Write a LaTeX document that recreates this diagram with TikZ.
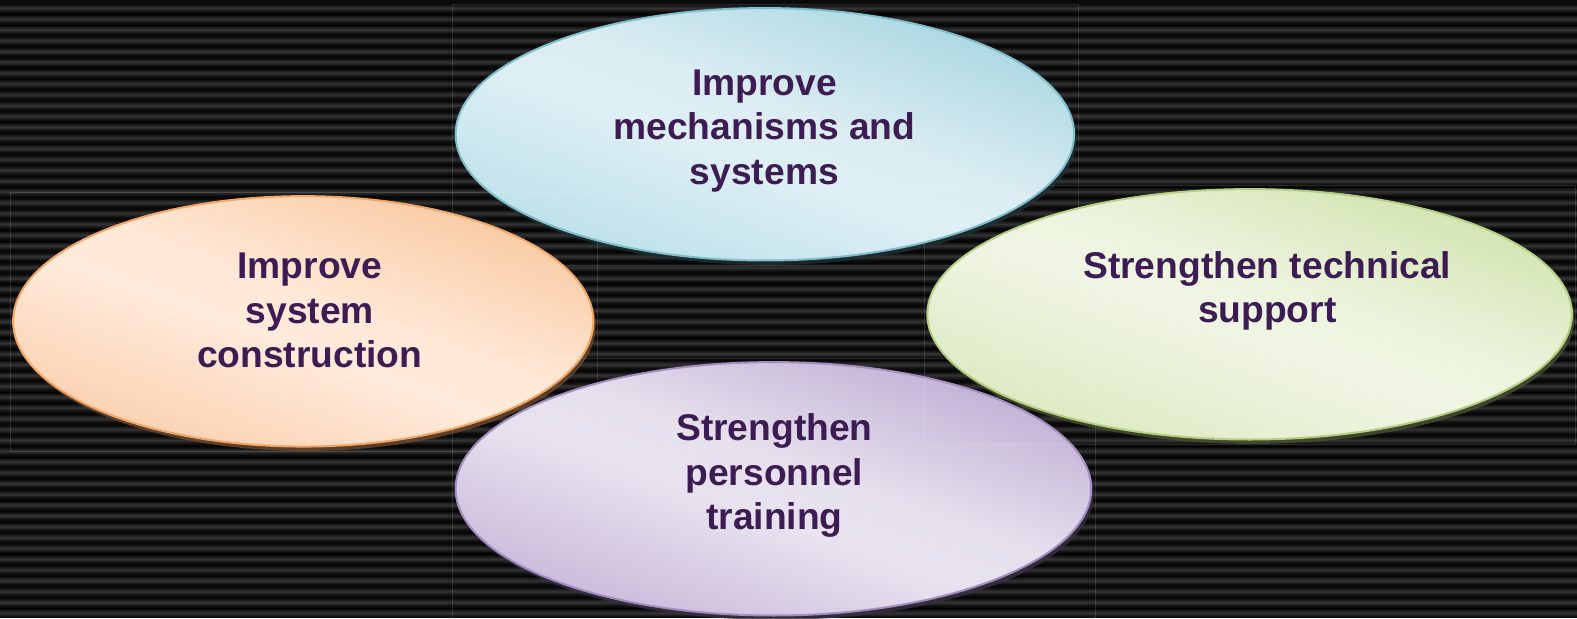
\documentclass[tikz,border=0pt]{standalone}
\usepackage{fontspec}
\setmainfont{Liberation Sans}
\usepackage{xcolor}
\usepackage{tikz}
\usetikzlibrary{shapes.geometric,shadows}

\definecolor{ink}{RGB}{61,28,84}
\definecolor{stripedark}{RGB}{10,10,10}
\definecolor{stripelight}{RGB}{52,52,52}
\definecolor{blueedge}{RGB}{128,190,206}
\definecolor{orangeedge}{RGB}{242,165,101}
\definecolor{greenedge}{RGB}{180,206,130}
\definecolor{purpleedge}{RGB}{163,142,194}

\pgfdeclarehorizontalshading{bluefill}{100bp}{rgb(0bp)=(0.72,0.87,0.91); rgb(22bp)=(0.72,0.87,0.91); rgb(46bp)=(0.87,0.94,0.96); rgb(54bp)=(0.86,0.93,0.95); rgb(78bp)=(0.64,0.83,0.88); rgb(100bp)=(0.64,0.83,0.88)}
\pgfdeclarehorizontalshading{orangefill}{100bp}{rgb(0bp)=(0.98,0.80,0.66); rgb(22bp)=(0.98,0.80,0.66); rgb(46bp)=(1.00,0.92,0.86); rgb(54bp)=(1.00,0.91,0.84); rgb(78bp)=(0.97,0.77,0.60); rgb(100bp)=(0.97,0.77,0.60)}
\pgfdeclarehorizontalshading{greenfill}{100bp}{rgb(0bp)=(0.85,0.91,0.74); rgb(22bp)=(0.85,0.91,0.74); rgb(46bp)=(0.94,0.96,0.89); rgb(54bp)=(0.93,0.96,0.88); rgb(78bp)=(0.81,0.88,0.66); rgb(100bp)=(0.81,0.88,0.66)}
\pgfdeclarehorizontalshading{purplefill}{100bp}{rgb(0bp)=(0.77,0.70,0.84); rgb(22bp)=(0.77,0.70,0.84); rgb(46bp)=(0.91,0.89,0.94); rgb(54bp)=(0.90,0.88,0.93); rgb(78bp)=(0.73,0.66,0.82); rgb(100bp)=(0.73,0.66,0.82)}

\tikzset{
  bubble/.style n args={4}{ellipse, inner sep=0pt, line width=1pt,
    draw=#2, shading=#1, shading angle=70,
    general shadow={fill=#3, shadow xshift=1.2pt, shadow yshift=-2.2pt, opacity=0.8},
    minimum width=#4},
  caption/.style={text=ink, align=center, font=\bfseries\fontsize{18.6}{22.2}\selectfont},
  frameline/.style={draw=white, opacity=0.12, line width=0.5pt}
}

\begin{document}
\begin{tikzpicture}[x=0.50287pt,y=-0.50287pt]
  \useasboundingbox (0,0) rectangle (1568,614.5);
  % striped backdrop
  \fill[stripedark] (0,0) rectangle (1568,614.5);
  \foreach \i in {0,...,57}
    \fill[top color=stripedark, bottom color=stripedark, middle color=stripelight]
      (0,{\i*10.74+4}) rectangle (1568,{\i*10.74+12});

  % the four ellipses
  \node[bubble={bluefill}{blueedge}{black!75!blueedge}{309.2pt}, minimum height=126.2pt]
    (mech) at (760.5,133.5) {};
  \node[bubble={orangefill}{orangeedge}{black!55!orangeedge}{290.1pt}, minimum height=125.2pt]
    (constr) at (301.5,319.5) {};
  \node[bubble={greenfill}{greenedge}{black!60!greenedge}{322.3pt}, minimum height=125.2pt]
    (tech) at (1242.5,312.5) {};
  \node[bubble={purplefill}{purpleedge}{black!65!purpleedge}{317.8pt}, minimum height=126.7pt]
    (staff) at (769,486) {};

  % faint frames round each ellipse
  \foreach \e in {mech,constr,tech,staff}
    \draw[frameline] ([shift={(-1pt,1.5pt)}]\e.north -| \e.west)
      rectangle ([shift={(1.5pt,-2pt)}]\e.south -| \e.east);

  % labels
  \node[caption] (mechtxt) at (760,130) {Improve\\mechanisms and\\systems};
  \node[caption] (constrtxt) at (308,309) {Improve\\system\\construction};
  \node[caption] (techtxt) at (1260,289) {Strengthen technical\\support};
  \node[caption] (stafftxt) at (770,473) {Strengthen\\personnel\\training};
\end{tikzpicture}
\end{document}
